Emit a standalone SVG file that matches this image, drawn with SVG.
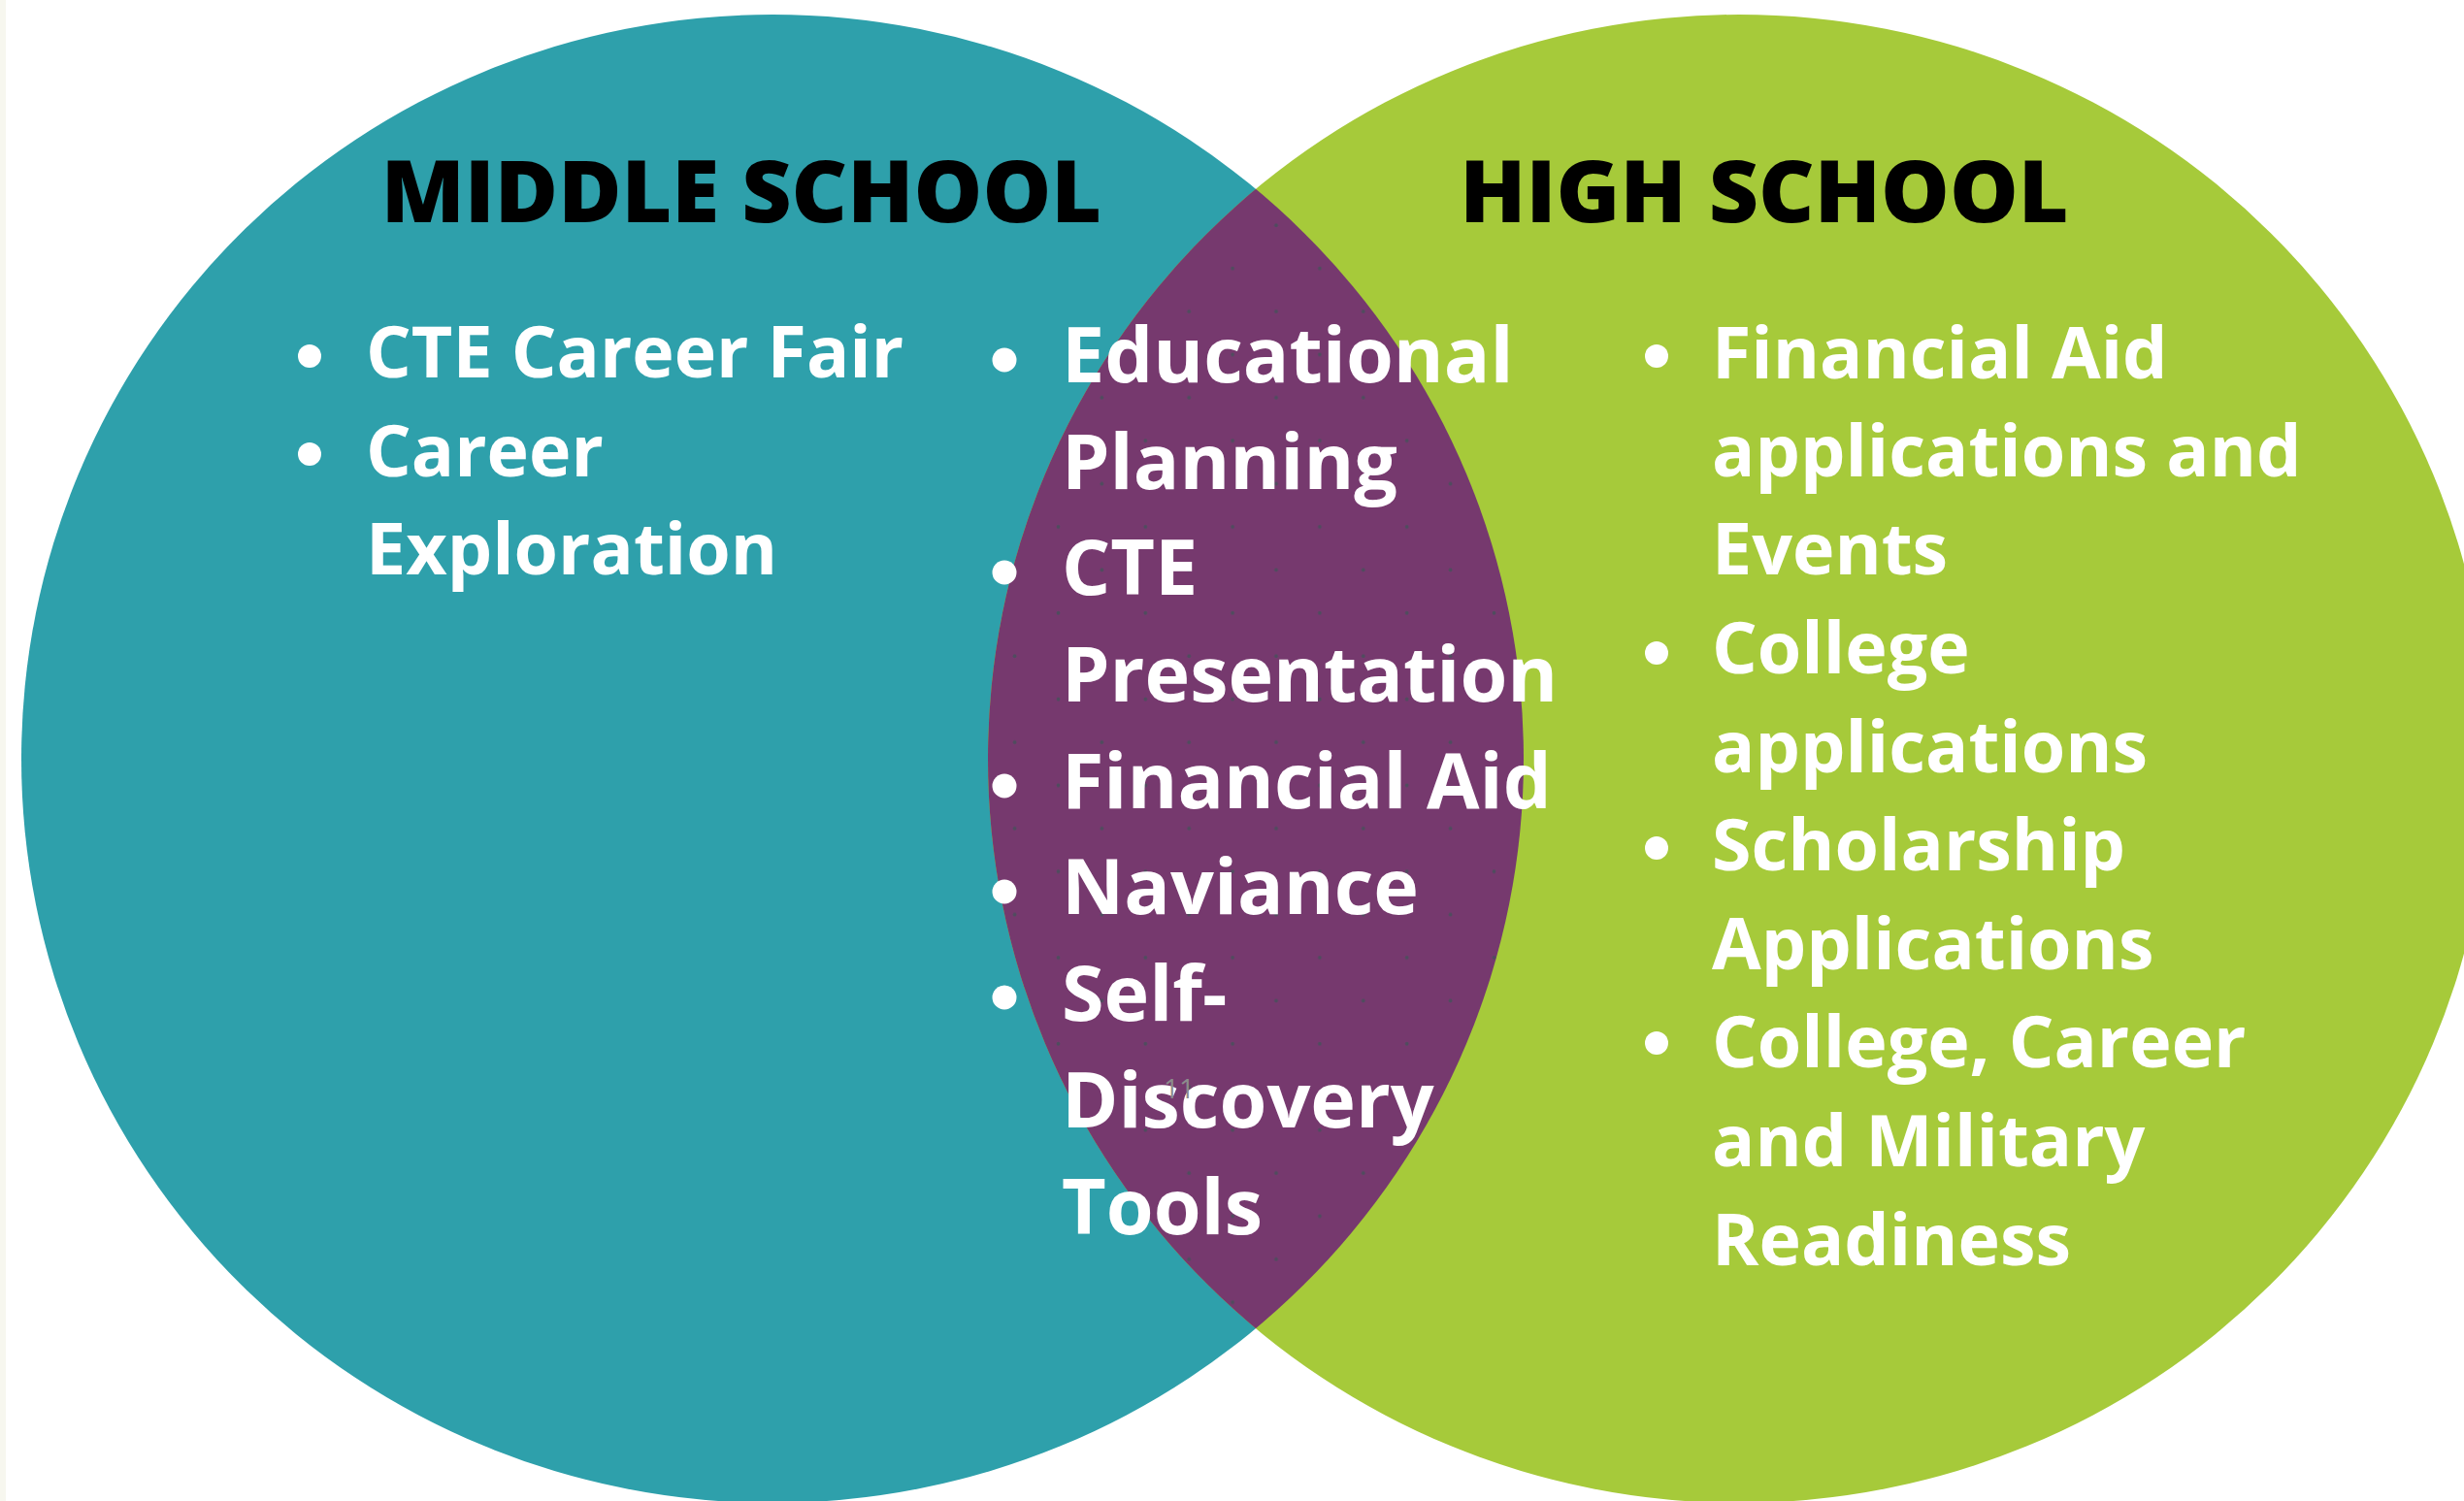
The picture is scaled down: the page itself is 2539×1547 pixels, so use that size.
<svg xmlns="http://www.w3.org/2000/svg" width="2539" height="1547" viewBox="0 0 2539 1547">
<style>
.head { font-family: "Open Sans", "DejaVu Sans", sans-serif; font-weight: 800; font-size: 89px; fill: #000000; text-anchor: middle; }
.item { font-family: "Open Sans", "DejaVu Sans", sans-serif; font-weight: 700; font-size: 73.5px; fill: #ffffff; }
.mid { font-size: 79px; }
.bullet { fill: #ffffff; }
.note { font-family: "Open Sans", "DejaVu Sans", sans-serif; font-weight: 400; font-size: 28px; fill: #8c8c8c; }
</style>
<defs>
  <clipPath id="clipLeft"><ellipse cx="796" cy="782" rx="774" ry="767"/></clipPath>
  <clipPath id="clipRight"><ellipse cx="1792" cy="782" rx="774" ry="767"/></clipPath>
  <pattern id="dots" patternUnits="userSpaceOnUse" x="1023.15" y="298.8" width="89.8" height="88.8">
    <circle cx="22.45" cy="22.2" r="1.9" fill="#4f4c5e"/>
    <circle cx="67.35" cy="66.6" r="1.9" fill="#4f4c5e"/>
  </pattern>
</defs>
<rect x="0" y="0" width="2539" height="1547" fill="#ffffff"/>
<rect x="0" y="0" width="6" height="1547" fill="#f7f7ef"/>

<g id="middle-school">
  <ellipse cx="796" cy="782" rx="774" ry="767" fill="#2ea0ab"/>
  <text class="head" x="764" y="229">MIDDLE SCHOOL</text>
  <circle class="bullet" cx="319" cy="367" r="12"/>
  <circle class="bullet" cx="319" cy="468" r="12"/>
  <text class="item" x="377" y="389">CTE Career Fair</text>
  <text class="item" x="377" y="491">Career</text>
  <text class="item" x="377" y="592">Exploration</text>
</g>

<g id="high-school">
  <ellipse cx="1792" cy="782" rx="774" ry="767" fill="#a6ca3a"/>
  <text class="head" x="1818" y="229">HIGH SCHOOL</text>
  <circle class="bullet" cx="1707" cy="367" r="12"/>
  <circle class="bullet" cx="1707" cy="673" r="12"/>
  <circle class="bullet" cx="1707" cy="874" r="12"/>
  <circle class="bullet" cx="1707" cy="1075" r="12"/>
  <text class="item" x="1764" y="390">Financial Aid</text>
  <text class="item" x="1764" y="491">applications and</text>
  <text class="item" x="1764" y="592">Events</text>
  <text class="item" x="1764" y="694">College</text>
  <text class="item" x="1764" y="796">applications</text>
  <text class="item" x="1764" y="897">Scholarship</text>
  <text class="item" x="1764" y="999">Applications</text>
  <text class="item" x="1764" y="1100">College, Career</text>
  <text class="item" x="1764" y="1202">and Military</text>
  <text class="item" x="1764" y="1304">Readiness</text>
</g>

<g id="both">
  <g clip-path="url(#clipLeft)">
    <g clip-path="url(#clipRight)">
      <rect x="1000" y="0" width="600" height="1547" fill="#76396e"/>
      <rect x="1000" y="0" width="600" height="1547" fill="url(#dots)"/>
    </g>
  </g>
  <circle class="bullet" cx="1035" cy="371" r="12.5"/>
  <circle class="bullet" cx="1035" cy="590" r="12.5"/>
  <circle class="bullet" cx="1035" cy="810" r="12.5"/>
  <circle class="bullet" cx="1035" cy="919" r="12.5"/>
  <circle class="bullet" cx="1035" cy="1028" r="12.5"/>
  <text class="item mid" x="1094" y="394">Educational</text>
  <text class="item mid" x="1094" y="504">Planning</text>
  <text class="item mid" x="1094" y="613">CTE</text>
  <text class="item mid" x="1094" y="723">Presentation</text>
  <text class="item mid" x="1094" y="833">Financial Aid</text>
  <text class="item mid" x="1094" y="942">Naviance</text>
  <text class="item mid" x="1094" y="1052">Self-</text>
  <text class="item mid" x="1094" y="1162">Discovery</text>
  <text class="item mid" x="1094" y="1272">Tools</text>
  <text class="note" x="1199" y="1132">11</text>
</g>
</svg>
